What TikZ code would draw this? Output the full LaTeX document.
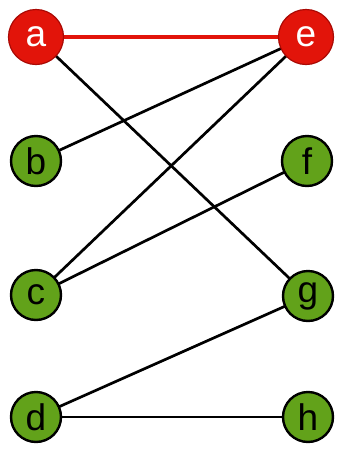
\documentclass[tikz,border=0pt]{standalone}
\usepackage{fontspec}
\setmainfont{Liberation Sans}
\definecolor{nodered}{RGB}{226,20,10}
\definecolor{reddark}{RGB}{170,10,5}
\definecolor{nodegreen}{RGB}{98,162,26}
\begin{document}
\begin{tikzpicture}[x=1pt,y=-1pt,
  rednode/.style={circle,fill=nodered,draw=reddark,line width=1.2pt,minimum size=55pt,inner sep=0pt,text=white,font=\fontsize{37}{37}\selectfont},
  greennode/.style={circle,fill=nodegreen,draw=black,line width=2.4pt,minimum size=50pt,inner sep=0pt,text=black,font=\fontsize{37}{37}\selectfont},
  edge/.style={draw=black,line width=2.7pt},
  redge/.style={draw=nodered,line width=3.6pt}]
\useasboundingbox (0,0) rectangle (342,456);
\coordinate (pa) at (36,37);
\coordinate (pe) at (306,37);
\coordinate (pb) at (36,161);
\coordinate (pf) at (307,161);
\coordinate (pc) at (36,295);
\coordinate (pg) at (308,296);
\coordinate (pd) at (36,417);
\coordinate (ph) at (308,417);
\draw[redge] (pa) -- (pe);
\draw[edge] (pa) -- (pg);
\draw[edge] (pb) -- (pe);
\draw[edge] (pc) -- (pe);
\draw[edge] (pc) -- (pf);
\draw[edge] (pd) -- (pg);
\draw[edge] (pd) -- (ph);
\node[rednode] (a) at (pa) {a};
\node[rednode] (e) at (pe) {e};
\node[greennode] (b) at (pb) {b};
\node[greennode] (f) at (pf) {f};
\node[greennode] (c) at (pc) {c};
\node[greennode] (g) at (pg) {g};
\node[greennode] (d) at (pd) {d};
\node[greennode] (h) at (ph) {h};
\end{tikzpicture}
\end{document}
